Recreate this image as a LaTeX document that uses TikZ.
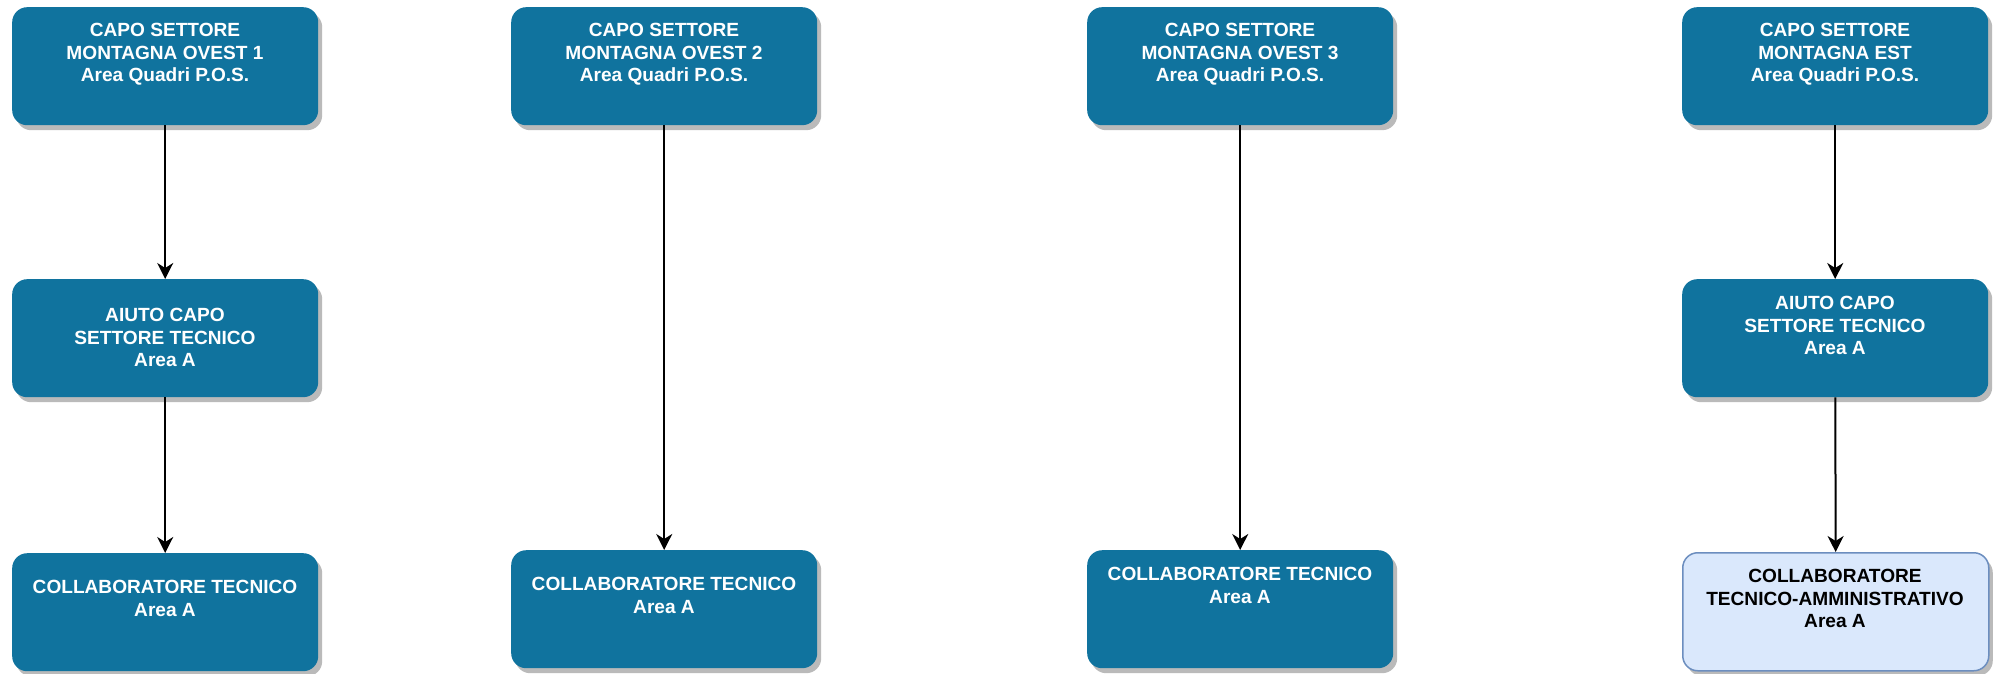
\documentclass[tikz,border=0pt]{standalone}
\usepackage{fontspec}
\setmainfont{Liberation Sans}
\usetikzlibrary{arrows.meta,shadows}
\definecolor{boxblue}{HTML}{10739E}
\definecolor{lightfill}{HTML}{DAE8FC}
\definecolor{lightedge}{HTML}{6C8EBF}
\begin{document}
\begin{tikzpicture}[x=1pt,y=-1pt,
  box/.style={rounded corners=15pt, minimum width=306pt, minimum height=118pt,
    inner sep=0pt, anchor=north west, fill=boxblue, draw=none,
    drop shadow={shadow xshift=4pt, shadow yshift=-5pt, fill=black!27, opacity=1}},
  lightbox/.style={box, fill=lightfill, draw=lightedge, line width=1.5pt},
  lbl/.style={anchor=north, inner sep=0pt, align=center, text=white,
    font=\fontsize{19.1}{22.6}\selectfont\bfseries},
  lbldark/.style={lbl, text=black},
  conn/.style={line width=2pt, -{Stealth[length=16pt,width=16pt,inset=5pt]}}]
\useasboundingbox (0,0) rectangle (2004,674);
% column 1
\node[box] (a1) at (12,7) {};
\node[box] (b1) at (12,279) {};
\node[box] (c1) at (12,553) {};
% column 2
\node[box] (a2) at (511,7) {};
\node[box] (c2) at (511,550) {};
% column 3
\node[box] (a3) at (1087,7) {};
\node[box] (c3) at (1087,550) {};
% column 4
\node[box] (a4) at (1682,7) {};
\node[box] (b4) at (1682,279) {};
\node[lightbox] (c4) at (1682,552) {};
% labels
\node[lbl] (ta1) at (165,23) {CAPO SETTORE\\MONTAGNA OVEST 1\\Area Quadri P.O.S.};
\node[lbl] (tb1) at (165,308) {AIUTO CAPO\\SETTORE TECNICO\\Area A};
\node[lbl] (tc1) at (165,580) {COLLABORATORE TECNICO\\Area A};
\node[lbl] (ta2) at (664,23) {CAPO SETTORE\\MONTAGNA OVEST 2\\Area Quadri P.O.S.};
\node[lbl] (tc2) at (664,577) {COLLABORATORE TECNICO\\Area A};
\node[lbl] (ta3) at (1240,23) {CAPO SETTORE\\MONTAGNA OVEST 3\\Area Quadri P.O.S.};
\node[lbl] (tc3) at (1240,567) {COLLABORATORE TECNICO\\Area A};
\node[lbl] (ta4) at (1835,23) {CAPO SETTORE\\MONTAGNA EST\\Area Quadri P.O.S.};
\node[lbl] (tb4) at (1835,296) {AIUTO CAPO\\SETTORE TECNICO\\Area A};
\node[lbldark] (tc4) at (1835,569) {COLLABORATORE\\TECNICO-AMMINISTRATIVO\\Area A};
% connectors
\draw[conn] (a1) -- (b1);
\draw[conn] (b1) -- (c1);
\draw[conn] (a2) -- (c2);
\draw[conn] (a3) -- (c3);
\draw[conn] (a4) -- (b4);
\draw[conn] (b4) -- (c4);
\end{tikzpicture}
\end{document}
